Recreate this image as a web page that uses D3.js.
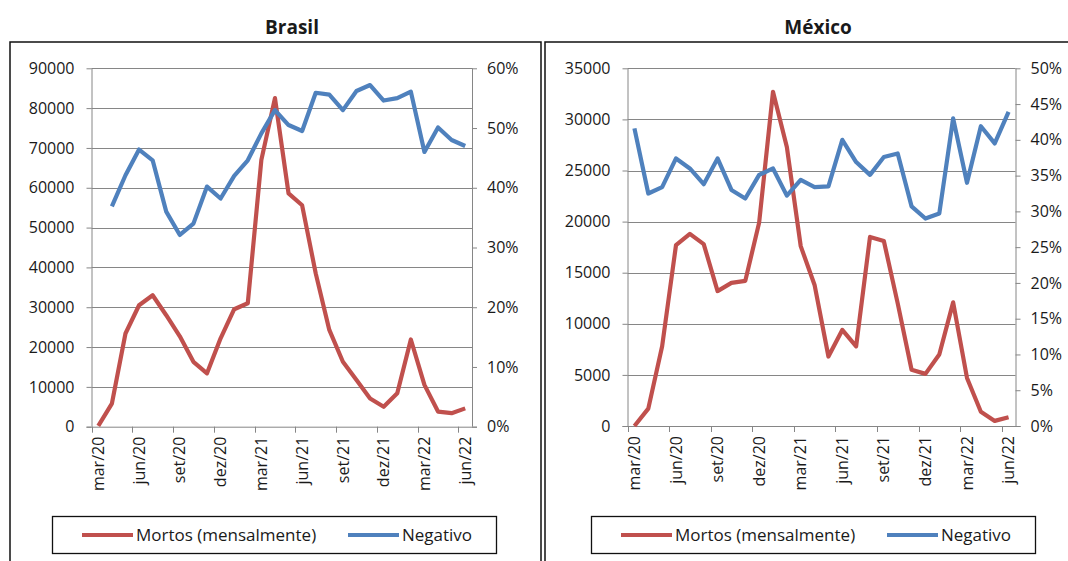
<!DOCTYPE html>
<html>
<head>
<meta charset="utf-8">
<script src="https://cdn.jsdelivr.net/npm/d3@7"></script>
<style>
  body { margin: 0; background: #fff; }
  text { font-family: "Open Sans", "DejaVu Sans", sans-serif; fill: #1a1a1a; }
</style>
</head>
<body>
<div id="chart"></div>
<script>
// months (mar/20 .. jun/22)
var months = ["mar/20","abr/20","mai/20","jun/20","jul/20","ago/20","set/20","out/20","nov/20","dez/20",
  "jan/21","fev/21","mar/21","abr/21","mai/21","jun/21","jul/21","ago/21","set/21","out/21","nov/21","dez/21",
  "jan/22","fev/22","mar/22","abr/22","mai/22","jun/22"];

// Brasil
var brMortos = [200, 5800, 23400, 30500, 33000, 28000, 22700, 16300, 13400, 22200, 29500, 31000,
  67000, 82500, 58600, 55600, 38500, 24300, 16300, 11700, 7100, 5000, 8400, 21900, 10500, 3800, 3400, 4600];
var brNegativo = [null, 36.9, 42.1, 46.4, 44.6, 36.0, 32.1, 34.0, 40.2, 38.2, 42.0, 44.6,
  49.1, 53.0, 50.5, 49.5, 55.9, 55.6, 53.0, 56.2, 57.2, 54.6, 55.0, 56.1, 46.0, 50.1, 48.0, 47.0];
var brLeftTicks = [0, 10000, 20000, 30000, 40000, 50000, 60000, 70000, 80000, 90000];
var brRightTicks = [0, 10, 20, 30, 40, 50, 60];

// México
var mxMortos = [0, 1700, 7800, 17700, 18800, 17800, 13200, 14000, 14200, 19900, 32700, 27300,
  17600, 13800, 6800, 9400, 7800, 18500, 18100, 12000, 5500, 5100, 7000, 12100, 4700, 1400, 500, 850];
var mxNegativo = [41.6, 32.5, 33.4, 37.4, 36.0, 33.8, 37.4, 33.0, 31.8, 35.1, 36.0, 32.2,
  34.4, 33.4, 33.5, 40.0, 36.9, 35.1, 37.6, 38.1, 30.7, 29.0, 29.7, 43.0, 34.0, 41.9, 39.5, 43.9];
var mxLeftTicks = [0, 5000, 10000, 15000, 20000, 25000, 30000, 35000];
var mxRightTicks = [0, 5, 10, 15, 20, 25, 30, 35, 40, 45, 50];

var seriesNames = ["Mortos (mensalmente)", "Negativo"];
var red = "#C0504D", blue = "#4F81BD", grid = "#868686";

var width = 1068, height = 561;
var svg = d3.select("#chart").append("svg")
  .attr("width", width)
  .attr("height", height);

// panel frames
svg.append("rect").attr("x", 10).attr("y", 42).attr("width", 531).attr("height", 540)
  .attr("fill", "none").attr("stroke", "#111").attr("stroke-width", 1.5);
svg.append("rect").attr("x", 545).attr("y", 42).attr("width", 540).attr("height", 540)
  .attr("fill", "none").attr("stroke", "#111").attr("stroke-width", 1.5);

function panel(cfg) {
  var g = svg.append("g");

  var x = d3.scaleBand().domain(months).range([cfg.left, cfg.right]);
  var bw = x.bandwidth();
  var yL = d3.scaleLinear().domain([0, cfg.maxL]).range([cfg.bottom, cfg.top]);
  var yR = d3.scaleLinear().domain([0, cfg.maxR]).range([cfg.bottom, cfg.top]);

  // title
  g.append("text")
    .attr("x", cfg.titleX).attr("y", 34)
    .attr("text-anchor", "middle")
    .style("font-size", "19px").style("font-weight", "bold")
    .text(cfg.title);

  // gridlines
  g.selectAll(".grid").data(cfg.leftTicks.slice(1)).enter().append("line")
    .attr("x1", cfg.left).attr("x2", cfg.right)
    .attr("y1", function(d) { return Math.round(yL(d)) + 0.5; })
    .attr("y2", function(d) { return Math.round(yL(d)) + 0.5; })
    .attr("stroke", grid).attr("stroke-width", 1);

  // left + right axes
  var axL = g.append("g").attr("transform", "translate(" + cfg.left + ",0)")
    .call(d3.axisLeft(yL).tickValues(cfg.leftTicks).tickSize(5).tickPadding(12).tickFormat(d3.format("d")));
  var axR = g.append("g").attr("transform", "translate(" + cfg.right + ",0)")
    .call(d3.axisRight(yR).tickValues(cfg.rightTicks).tickSize(5).tickPadding(10).tickFormat(function(d) { return d + "%"; }));
  [axL, axR].forEach(function(ax) {
    ax.select(".domain").attr("stroke", grid).attr("d", "M0.5," + cfg.top + "V" + cfg.bottom);
    ax.selectAll(".tick line").attr("stroke", grid);
    ax.selectAll(".tick text").style("font-size", "16px").attr("fill", "#1a1a1a");
  });

  // x axis
  g.append("line")
    .attr("x1", cfg.left - 5).attr("x2", cfg.right + 5)
    .attr("y1", cfg.bottom + 0.5).attr("y2", cfg.bottom + 0.5)
    .attr("stroke", grid);
  var shown = months.filter(function(d, i) { return i % 3 === 0; });
  g.selectAll(".xt").data(shown).enter().append("line")
    .attr("x1", function(d) { return Math.round(x(d)) + 0.5; })
    .attr("x2", function(d) { return Math.round(x(d)) + 0.5; })
    .attr("y1", cfg.bottom).attr("y2", cfg.bottom + 6)
    .attr("stroke", grid);
  g.selectAll(".xl").data(shown).enter().append("text")
    .attr("transform", function(d) { return "translate(" + (x(d) + bw / 2) + "," + (cfg.bottom + 10) + ") rotate(-90)"; })
    .attr("text-anchor", "end")
    .attr("dy", "0.35em")
    .style("font-size", "16px")
    .text(function(d) { return d; });

  // lines
  var lineL = d3.line()
    .x(function(d, i) { return x(months[i]) + bw / 2; })
    .y(function(d) { return yL(d); });
  var lineR = d3.line()
    .defined(function(d) { return d !== null; })
    .x(function(d, i) { return x(months[i]) + bw / 2; })
    .y(function(d) { return yR(d); });

  g.append("path").datum(cfg.mortos)
    .attr("d", lineL)
    .attr("fill", "none").attr("stroke", red).attr("stroke-width", 4.2)
    .attr("stroke-linejoin", "round");
  g.append("path").datum(cfg.negativo)
    .attr("d", lineR)
    .attr("fill", "none").attr("stroke", blue).attr("stroke-width", 4.2)
    .attr("stroke-linejoin", "round");

  // legend
  var lg = g.append("g");
  lg.append("rect")
    .attr("x", cfg.legX + 0.5).attr("y", 516.5).attr("width", 444).attr("height", 37)
    .attr("fill", "#fff").attr("stroke", "#111").attr("stroke-width", 1.3);
  var items = lg.selectAll(".li").data(seriesNames).enter().append("g")
    .attr("transform", function(d, i) { return "translate(" + (cfg.legX + (i === 0 ? 30 : 296)) + ",535)"; });
  items.append("line")
    .attr("x1", 0).attr("x2", 51)
    .attr("stroke", function(d, i) { return i === 0 ? red : blue; })
    .attr("stroke-width", 4);
  items.append("text")
    .attr("x", 54).attr("dy", "0.35em")
    .style("font-size", "17px")
    .text(function(d) { return d; });
}

panel({
  title: "Brasil", titleX: 292,
  left: 91.5, right: 472, top: 68.3, bottom: 426.7,
  maxL: 90000, maxR: 60,
  leftTicks: brLeftTicks, rightTicks: brRightTicks,
  mortos: brMortos, negativo: brNegativo,
  legX: 52
});
panel({
  title: "México", titleX: 818,
  left: 627.5, right: 1015.5, top: 68.3, bottom: 426,
  maxL: 35000, maxR: 50,
  leftTicks: mxLeftTicks, rightTicks: mxRightTicks,
  mortos: mxMortos, negativo: mxNegativo,
  legX: 591
});
</script>
</body>
</html>
